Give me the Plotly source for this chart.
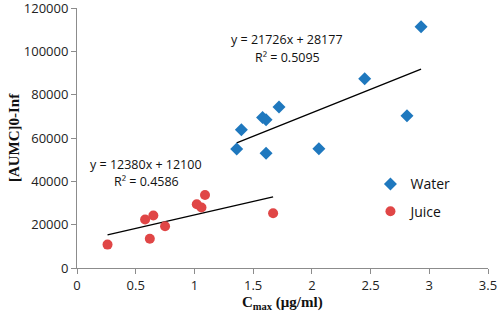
import plotly.graph_objects as go

# Data
water_cmax = [2.93, 2.45, 1.72, 1.58, 1.61, 1.40, 2.81, 2.06, 1.61, 1.36]
water_aumc = [111400, 87400, 74300, 69500, 68400, 63800, 70300, 55000, 53000, 54900]
juice_cmax = [0.26, 0.58, 0.65, 0.62, 0.75, 1.02, 1.06, 1.09, 1.67]
juice_aumc = [10800, 22400, 24200, 13500, 19300, 29400, 27900, 33700, 25300]

water_fit = (21726, 28177)   # slope, intercept
juice_fit = (12380, 12100)
water_eq = ["y = 21726x + 28177", "R² = 0.5095"]
juice_eq = ["y = 12380x + 12100", "R² = 0.4586"]

x_ticks = [0, 0.5, 1, 1.5, 2, 2.5, 3, 3.5]
y_ticks = [0, 20000, 40000, 60000, 80000, 100000, 120000]

BLUE = "#1F78BE"
RED = "#E04646"

fig = go.Figure()

def fit_line(xs, coef):
    x0, x1 = min(xs), max(xs)
    return [x0, x1], [coef[0] * x0 + coef[1], coef[0] * x1 + coef[1]]

lx, ly = fit_line(water_cmax, water_fit)
fig.add_trace(go.Scatter(x=lx, y=ly, mode="lines", line=dict(color="black", width=1.3),
                         showlegend=False, hoverinfo="skip"))
lx, ly = fit_line(juice_cmax, juice_fit)
fig.add_trace(go.Scatter(x=lx, y=ly, mode="lines", line=dict(color="black", width=1.3),
                         showlegend=False, hoverinfo="skip"))

fig.add_trace(go.Scatter(x=water_cmax, y=water_aumc, mode="markers", name="Water",
                         legendgroup="w",
                         marker=dict(symbol="diamond", size=10, color=BLUE)))
fig.add_trace(go.Scatter(x=juice_cmax, y=juice_aumc, mode="markers", name="Juice",
                         legendgroup="j",
                         marker=dict(symbol="circle", size=10, color=RED)))

tick_font = dict(family="Open Sans", size=13, color="#222222")
eq_font = dict(family="Open Sans", size=12.5, color="#111111")
title_font = dict(family="Liberation Serif", size=15, color="#111111", weight="bold")

fig.add_annotation(x=1.79, y=105300, xref="x", yref="y",
                   text=water_eq[0], showarrow=False, font=eq_font)
fig.add_annotation(x=1.79, y=97000, xref="x", yref="y",
                   text=water_eq[1], showarrow=False, font=eq_font)
fig.add_annotation(x=0.59, y=47700, xref="x", yref="y",
                   text=juice_eq[0], showarrow=False, font=eq_font)
fig.add_annotation(x=0.59, y=39800, xref="x", yref="y",
                   text=juice_eq[1], showarrow=False, font=eq_font)

# axis titles
fig.add_annotation(x=0.5, y=-0.136, xref="paper", yref="paper", yanchor="middle",
                   text="C<sub>max</sub> (μg/ml)", showarrow=False, font=title_font)
fig.add_annotation(x=-0.153, y=0.5, xref="paper", yref="paper", xanchor="center",
                   text="[AUMC]0-Inf", textangle=-90, showarrow=False, font=title_font)

fig.update_layout(
    width=498, height=312,
    margin=dict(l=77, r=10, t=8, b=44, autoexpand=False),
    paper_bgcolor="white", plot_bgcolor="white",
    showlegend=True,
    legend=dict(x=0.714, y=0.383, xanchor="left", yanchor="top",
                font=dict(family="Open Sans", size=14, color="#111111"),
                bgcolor="rgba(0,0,0,0)", itemwidth=30, tracegroupgap=6),
    xaxis=dict(range=[0, 3.5], tickvals=x_ticks, ticktext=[f"{v:g}" for v in x_ticks],
               showgrid=False, zeroline=False, showline=True, linecolor="#8C8C8C",
               linewidth=1, ticks="outside", ticklen=5, tickcolor="#8C8C8C",
               tickfont=tick_font, automargin=False, ticklabeloverflow="allow"),
    yaxis=dict(range=[0, 120000], tickvals=y_ticks, ticktext=[str(v) for v in y_ticks],
               showgrid=False, zeroline=False, showline=True, linecolor="#8C8C8C",
               linewidth=1, ticks="outside", ticklen=5, tickcolor="#8C8C8C",
               tickfont=tick_font, automargin=False, ticklabeloverflow="allow"),
)

fig.write_html("out.html", config={"displayModeBar": False},
               post_script="document.body.style.margin='0';document.body.style.overflow='hidden';")
